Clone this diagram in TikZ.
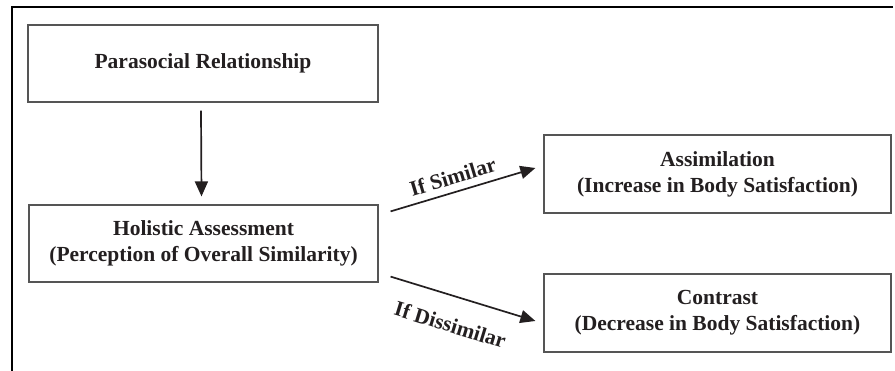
\documentclass[tikz,border=0pt]{standalone}
\usepackage{fontspec}
\setmainfont{Liberation Serif}
\usetikzlibrary{arrows.meta}
\definecolor{ink}{HTML}{231F20}
\definecolor{edgegray}{HTML}{555555}
\begin{document}
\begin{tikzpicture}[x=1pt,y=-1pt,
  box/.style={draw=edgegray, line width=1.2pt, align=center, inner sep=0pt,
    text=ink, font=\bfseries\fontsize{21.5}{26}\selectfont},
  arr/.style={-{Triangle[length=15pt,width=13pt]}, line width=1.7pt, draw=ink},
  lbl/.style={font=\bfseries\fontsize{21.5}{26}\selectfont, text=ink, inner sep=0pt, sloped}]
\useasboundingbox (0,0) rectangle (895,371);
\draw[line width=2.3pt, line join=miter] (893,7) -- (12,7) -- (12,373);
\node[box, minimum width=350pt, minimum height=77pt] (P) at (203,63.5) {Parasocial Relationship};
\node[box, minimum width=349pt, minimum height=77pt] (H) at (203.5,243.5) {Holistic Assessment\\(Perception of Overall Similarity)};
\node[box, minimum width=347pt, minimum height=78pt] (A) at (717.5,174) {Assimilation\\(Increase in Body Satisfaction)};
\node[box, minimum width=347pt, minimum height=78pt] (C) at (717.5,313) {Contrast\\(Decrease in Body Satisfaction)};
\draw[arr] ([xshift=-2pt,yshift=-8pt]P.south) -- ([xshift=-2pt,yshift=8pt]H.north);
\draw[arr] ([xshift=12pt,yshift=-7pt]H.north east) -- node[lbl, pos=.46, above=7pt] {If Similar} ([xshift=-8pt,yshift=6pt]A.west);
\draw[arr] ([xshift=12pt,yshift=6pt]H.south east) -- node[lbl, pos=.47, below=20pt] {If Dissimilar} ([xshift=-8pt,yshift=-8pt]C.west);
\end{tikzpicture}
\end{document}
